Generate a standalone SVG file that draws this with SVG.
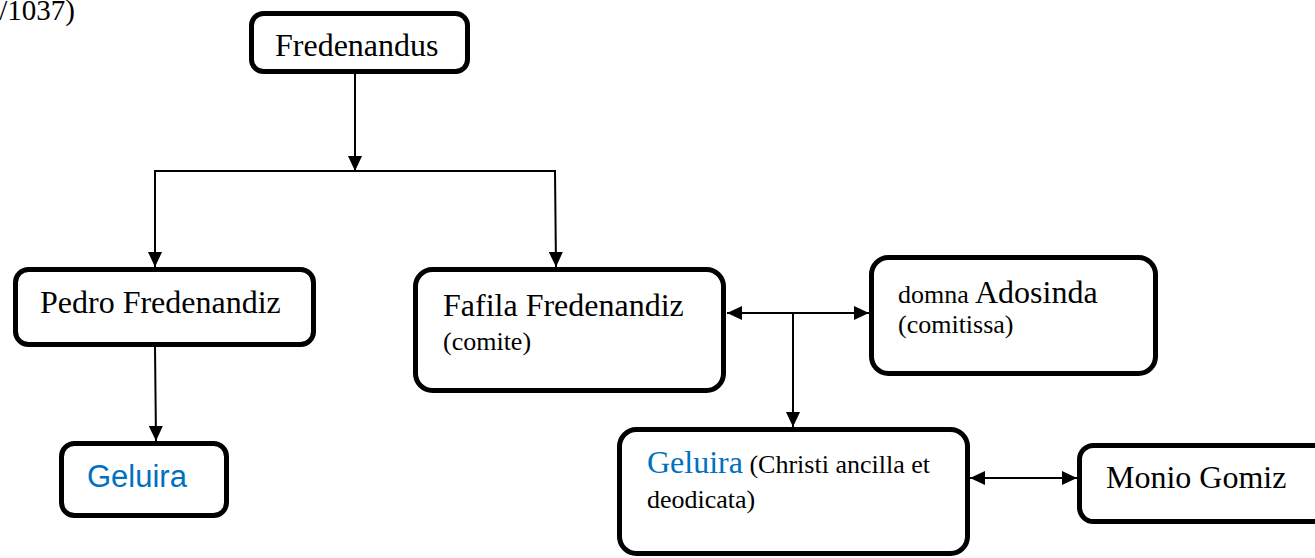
<svg xmlns="http://www.w3.org/2000/svg" width="1315" height="558" viewBox="0 0 1315 558">
<style>
.box{fill:#fff;stroke:#000;stroke-width:5}
.t{font-family:"Liberation Serif","Times New Roman",serif;font-size:32px;fill:#000}
.s{font-size:26px}
.blue{fill:#0070C0}
.sans{font-family:"Liberation Sans",Arial,sans-serif;font-size:31px;fill:#0070C0}
.c{fill:none;stroke:#000;stroke-width:2}
</style>
<defs>
<marker id="ah" markerUnits="userSpaceOnUse" markerWidth="16" markerHeight="14" refX="15" refY="7" orient="auto-start-reverse">
<path d="M0,0 L15,7 L0,14 Z" fill="#000"/>
</marker>
</defs>
<text class="t" x="75" y="20" text-anchor="end" style="font-size:29px">/1037)</text>
<g id="connectors">
<line class="c" x1="355" y1="74" x2="355" y2="171" marker-end="url(#ah)"/>
<line class="c" x1="154" y1="171" x2="556" y2="171"/>
<line class="c" x1="155" y1="171" x2="155" y2="267" marker-end="url(#ah)"/>
<line class="c" x1="555" y1="171" x2="556" y2="267" marker-end="url(#ah)"/>
<line class="c" x1="155" y1="347" x2="156" y2="441" marker-end="url(#ah)"/>
<line class="c" x1="727" y1="313" x2="869" y2="313" marker-start="url(#ah)" marker-end="url(#ah)"/>
<line class="c" x1="793" y1="313" x2="793" y2="427" marker-end="url(#ah)"/>
<line class="c" x1="970" y1="478" x2="1077" y2="478" marker-start="url(#ah)" marker-end="url(#ah)"/>
</g>
<g id="fredenandus">
<rect class="box" x="251.5" y="13.5" width="216" height="58" rx="12"/>
<text class="t" x="275" y="56">Fredenandus</text>
</g>
<g id="pedro">
<rect class="box" x="15.5" y="269.5" width="298" height="75" rx="13"/>
<text class="t" x="40" y="313">Pedro Fredenandiz</text>
</g>
<g id="geluira1">
<rect class="box" x="61.5" y="443.5" width="165" height="72" rx="13"/>
<text class="sans" x="87" y="487">Geluira</text>
</g>
<g id="fafila">
<rect class="box" x="415.5" y="269.5" width="308" height="121" rx="17"/>
<text class="t" x="443" y="316">Fafila Fredenandiz</text>
<text class="t s" x="443" y="350">(comite)</text>
</g>
<g id="adosinda">
<rect class="box" x="871.5" y="257.5" width="284" height="116" rx="17"/>
<text class="t" x="898" y="303"><tspan class="s">domna</tspan> Adosinda</text>
<text class="t s" x="898" y="333">(comitissa)</text>
</g>
<g id="geluira2">
<rect class="box" x="619.5" y="429.5" width="348" height="124" rx="17"/>
<text class="t" x="647" y="473"><tspan class="blue">Geluira</tspan><tspan class="s"> (Christi ancilla et</tspan></text>
<text class="t s" x="647" y="508">deodicata)</text>
</g>
<g id="monio">
<rect class="box" x="1079.5" y="445.5" width="260" height="76" rx="14"/>
<text class="t" x="1106" y="488">Monio Gomiz</text>
</g>
</svg>
